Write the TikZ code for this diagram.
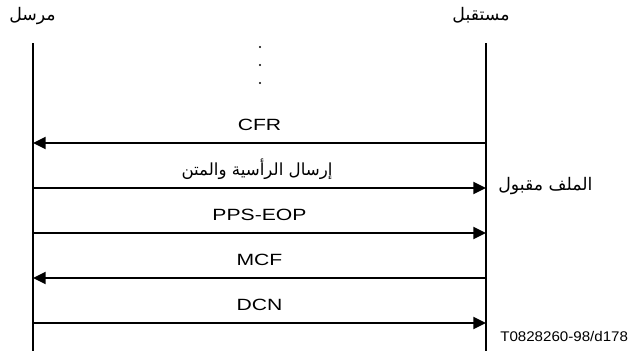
\documentclass[tikz,border=0pt]{standalone}
\usepackage{fontspec}
\setmainfont{Liberation Sans}
\newfontfamily\msgfont[FakeStretch=1.3]{Liberation Sans}
\newfontfamily\idfont[FakeStretch=1.08]{Liberation Sans}
\newfontfamily\arabicfont[Script=Arabic]{DejaVu Sans}
\TeXXeTstate=1
\usetikzlibrary{arrows.meta}

\begin{document}
\begin{tikzpicture}[x=0.75pt,y=-0.75pt,
    life/.style={line width=1.5pt},
    msg/.style={line width=1.5pt,-{Triangle[length=9.5pt,width=9pt]}},
    lbl/.style={anchor=base,inner sep=0pt,font=\msgfont\fontsize{12.2}{14}\selectfont},
    ar/.style={anchor=base,inner sep=0pt,font=\arabicfont\fontsize{13}{15}\selectfont}]
\useasboundingbox (0,0) rectangle (632,351);

% stations
\node[ar] (sender) at (32.5,20) {\beginR مرسل\endR};
\node[ar] (receiver) at (481,20) {\beginR مستقبل\endR};

\coordinate (sTop) at (33,43);
\coordinate (sBot) at (33,351);
\coordinate (rTop) at (486,43);
\coordinate (rBot) at (486,351);
\draw[life] (sTop)--(sBot);
\draw[life] (rTop)--(rBot);

% earlier phases left out
\fill (260,47) circle[radius=0.9pt];
\fill (260,65) circle[radius=0.9pt];
\fill (260,83) circle[radius=0.9pt];

% message points on both lines
\coordinate (s1) at (33,143);  \coordinate (r1) at (486,143);
\coordinate (s2) at (33,188);  \coordinate (r2) at (486,188);
\coordinate (s3) at (33,233);  \coordinate (r3) at (486,233);
\coordinate (s4) at (33,278);  \coordinate (r4) at (486,278);
\coordinate (s5) at (33,323);  \coordinate (r5) at (486,323);

\draw[msg] (r1)--(s1);
\node[lbl] (cfr) at (259.5,130.3) {CFR};

\draw[msg] (s2)--(r2);
\node[ar,font=\arabicfont\fontsize{12.5}{15}\selectfont] (body) at (257,175) {\beginR إرسال الرأسية والمتن\endR};

\draw[msg] (s3)--(r3);
\node[lbl] (pps) at (259.5,220.3) {PPS-EOP};

\draw[msg] (r4)--(s4);
\node[lbl] (mcf) at (259.5,265.3) {MCF};

\draw[msg] (s5)--(r5);
\node[lbl] (dcn) at (259.5,310.3) {DCN};

\node[ar,anchor=base west] (ok) at (498,190) {\beginR الملف مقبول\endR};

\node[anchor=base west,inner sep=0pt,font=\idfont\fontsize{10.5}{12}\selectfont]
    (ref) at (500,341.7) {T0828260-98/d178};
\end{tikzpicture}
\end{document}
